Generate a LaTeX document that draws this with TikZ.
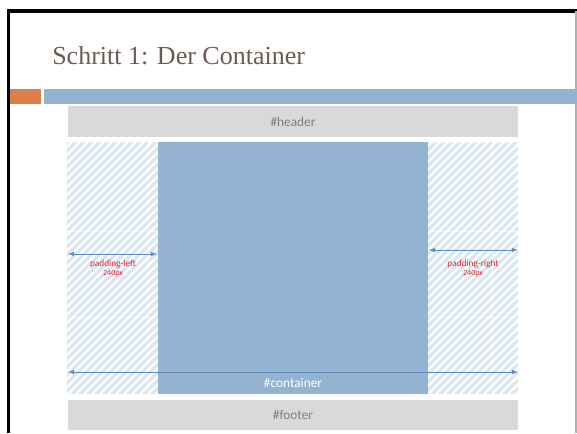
\documentclass[tikz,border=0pt]{standalone}
\usepackage{fontspec}
\setmainfont{Liberation Serif}
\newfontfamily\calibri{Carlito}
\usetikzlibrary{arrows}
\definecolor{titlebrown}{RGB}{110,90,84}
\definecolor{barorange}{RGB}{221,128,71}
\definecolor{barblue}{RGB}{148,179,209}
\definecolor{boxgray}{RGB}{217,217,217}
\definecolor{textgray}{RGB}{127,127,127}
\definecolor{stripeblue}{RGB}{218,230,242}
\definecolor{arrowblue}{RGB}{92,140,192}
\definecolor{padred}{RGB}{222,40,40}
\tikzset{
  boxtext/.style={font=\calibri\fontsize{10}{12}\selectfont, text=textgray},
  padarrow/.style={arrowblue, line width=0.6pt, latex-latex},
  padtext/.style={font=\calibri\fontsize{7}{8}\selectfont, text=padred, inner sep=0pt},
  pxtext/.style={font=\calibri\fontsize{6}{7}\selectfont, text=padred, inner sep=0pt},
  stripe/.style={stripeblue, line width=2.4pt},
}

\begin{document}
\begin{tikzpicture}[x=0.75pt,y=-0.75pt]
\useasboundingbox (0,0) rectangle (577,433);
% Rahmen der Folie
\draw[line width=2.5pt] (8.3,433) -- (8.3,11) -- (577,11);
\draw[gray!60, line width=1pt] (576,11) -- (576,433);

% Titel und Balken
\node[anchor=base west, text=titlebrown, font=\fontsize{19.5}{22}\selectfont, inner sep=0pt] (title) at (52,64) {Schritt 1: Der Container};
\fill[barorange] (10,89) rectangle (41,104);
\fill[barblue] (44,89) rectangle (577,104);

% header
\fill[boxgray] (68,106) rectangle (518,137);
\node[boxtext] (header) at (293,122) {\#header};

% padding links und rechts (schraffiert)
\begin{scope}
\clip (67,142) rectangle (158,394) (428,142) rectangle (518,394);
\foreach \s in {-200,-192,...,520}
  \draw[stripe] (\s,394) -- ++(252,-252);
\draw[white, line width=0.5pt, opacity=0.6] (148,142) -- (148,394) (492,142) -- (492,394)
      (67,231) -- (518,231) (67,317) -- (518,317);
\end{scope}

% container
\fill[barblue] (158,142) rectangle (428,394);
\node[boxtext, text=white] (container) at (293,383) {\#container};

% footer
\fill[boxgray] (68,400) rectangle (518,430);
\node[boxtext] (footer) at (293,415) {\#footer};

% Masspfeile
\coordinate (pl1) at (68,254);
\coordinate (pl2) at (157,254);
\coordinate (pr1) at (429,250);
\coordinate (pr2) at (518,250);
\coordinate (ct1) at (68,372);
\coordinate (ct2) at (518,372);
\draw[padarrow] (pl1) -- (pl2);
\draw[padarrow] (pr1) -- (pr2);
\draw[padarrow] (ct1) -- (ct2);
\node[padtext] (padleft) at (113,264) {padding-left};
\node[pxtext] (padleftpx) at (113,274) {240px};
\node[padtext] (padright) at (473,264) {padding-right};
\node[pxtext] (padrightpx) at (473,274) {240px};
\end{tikzpicture}
\end{document}
